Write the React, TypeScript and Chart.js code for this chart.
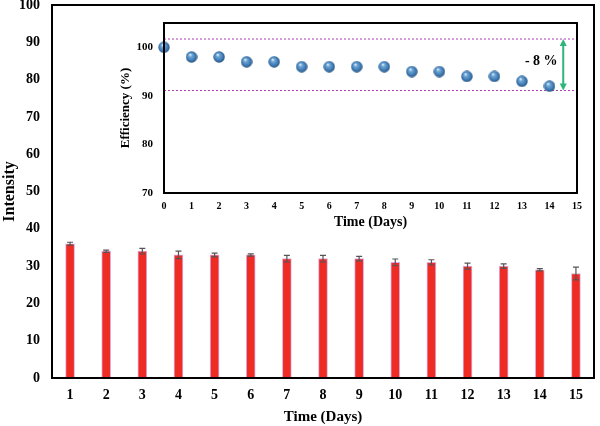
import React, { useEffect, useRef } from "react";
import { Chart, registerables } from "chart.js";

Chart.register(...registerables);

// ---- data ----
const days = ["1", "2", "3", "4", "5", "6", "7", "8", "9", "10", "11", "12", "13", "14", "15"];
const intensity = [36, 34, 34, 33, 33, 33, 32, 32, 32, 31, 31, 30, 30, 29, 28];
const intensityErr = [0.4, 0.3, 0.75, 1.0, 0.5, 0.3, 0.9, 0.9, 0.6, 0.9, 0.7, 0.8, 0.6, 0.3, 1.7];

const effDays = [0, 1, 2, 3, 4, 5, 6, 7, 8, 9, 10, 11, 12, 13, 14];
const efficiency = [100, 98, 98, 97, 97, 96, 96, 96, 96, 95, 95, 94, 94, 93, 92];
const insetYTicks = [70, 80, 90, 100];

const bandUpper = 101.7;
const bandLower = 91.1;
const arrowDay = 14.5;
const dropLabel = "- 8 %";
const dropLabelDay = 13.7;
const dropLabelValue = 97;

const SERIF = '"Liberation Serif", "Times New Roman", serif';

const boxBorder = {
  id: "boxBorder",
  afterDraw(chart: any) {
    const { ctx, chartArea } = chart;
    ctx.save();
    ctx.strokeStyle = "#000";
    ctx.lineWidth = 2;
    ctx.strokeRect(chartArea.left, chartArea.top, chartArea.right - chartArea.left, chartArea.bottom - chartArea.top);
    ctx.restore();
  },
};

const errorBars = {
  id: "errorBars",
  afterDatasetsDraw(chart: any) {
    const { ctx } = chart;
    const meta = chart.getDatasetMeta(0);
    const y = chart.scales.y;
    ctx.save();
    ctx.strokeStyle = "#555";
    ctx.lineWidth = 1.2;
    meta.data.forEach((bar: any, i: number) => {
      const v = intensity[i];
      const e = intensityErr[i];
      const yt = y.getPixelForValue(v + e);
      const yb = y.getPixelForValue(v - e);
      const x = bar.x;
      ctx.beginPath();
      ctx.moveTo(x, yt);
      ctx.lineTo(x, yb);
      ctx.moveTo(x - 3, yt);
      ctx.lineTo(x + 3, yt);
      ctx.moveTo(x - 3, yb);
      ctx.lineTo(x + 3, yb);
      ctx.stroke();
    });
    ctx.restore();
  },
};

const insetAnnotations = {
  id: "insetAnnotations",
  beforeDatasetsDraw(chart: any) {
    const { ctx, chartArea, scales } = chart;
    const xs = scales.x;
    const ys = scales.y;
    const yU = ys.getPixelForValue(bandUpper);
    const yL = ys.getPixelForValue(bandLower);
    ctx.save();
    ctx.strokeStyle = "#b03cb0";
    ctx.lineWidth = 1;
    ctx.setLineDash([2, 2]);
    ctx.beginPath();
    ctx.moveTo(chartArea.left, yU);
    ctx.lineTo(chartArea.right, yU);
    ctx.moveTo(chartArea.left, yL);
    ctx.lineTo(chartArea.right, yL);
    ctx.stroke();
    ctx.setLineDash([]);
    // arrow
    const ax = xs.getPixelForValue(arrowDay);
    ctx.strokeStyle = "#2db67a";
    ctx.fillStyle = "#2db67a";
    ctx.lineWidth = 2;
    ctx.beginPath();
    ctx.moveTo(ax, yU + 5);
    ctx.lineTo(ax, yL - 5);
    ctx.stroke();
    ctx.beginPath();
    ctx.moveTo(ax, yU);
    ctx.lineTo(ax - 3.5, yU + 7);
    ctx.lineTo(ax + 3.5, yU + 7);
    ctx.closePath();
    ctx.fill();
    ctx.beginPath();
    ctx.moveTo(ax, yL);
    ctx.lineTo(ax - 3.5, yL - 7);
    ctx.lineTo(ax + 3.5, yL - 7);
    ctx.closePath();
    ctx.fill();
    // label
    ctx.fillStyle = "#000";
    ctx.font = `bold 14px ${SERIF}`;
    ctx.textAlign = "center";
    ctx.textBaseline = "middle";
    ctx.fillText(dropLabel, xs.getPixelForValue(dropLabelDay), ys.getPixelForValue(dropLabelValue));
    ctx.restore();
  },
};

function makeSphere(): HTMLCanvasElement {
  const r = 6;
  const c = document.createElement("canvas");
  c.width = 2 * r;
  c.height = 2 * r;
  const ctx = c.getContext("2d")!;
  const g = ctx.createRadialGradient(r * 0.75, r * 0.6, 0.3, r, r, r);
  g.addColorStop(0, "#e6f3ff");
  g.addColorStop(0.25, "#6fa8d8");
  g.addColorStop(0.75, "#3a74ad");
  g.addColorStop(1, "#1c4874");
  ctx.fillStyle = g;
  ctx.beginPath();
  ctx.arc(r, r, r - 0.3, 0, Math.PI * 2);
  ctx.fill();
  return c;
}

export default function App() {
  const mainRef = useRef<HTMLCanvasElement>(null);
  const insetRef = useRef<HTMLCanvasElement>(null);

  useEffect(() => {
    const main = new Chart(mainRef.current!, {
      type: "bar",
      data: {
        labels: days,
        datasets: [
          {
            data: intensity,
            backgroundColor: "#ee2c24",
            borderColor: "#dcb0e2",
            borderWidth: 1,
            barThickness: 9,
          },
        ],
      },
      options: {
        responsive: false,
        animation: false,
        layout: { padding: { top: 5, right: 6, left: 0, bottom: 0 } },
        plugins: { legend: { display: false }, tooltip: { enabled: false } },
        scales: {
          x: {
            grid: { display: false, drawTicks: false },
            border: { display: false },
            ticks: { color: "#000", font: { family: SERIF, size: 14, weight: "bold" }, padding: 9 },
            title: {
              display: true,
              text: "Time (Days)",
              color: "#000",
              font: { family: SERIF, size: 15, weight: "bold" },
              padding: { top: 0, bottom: 0 },
            },
            afterFit(s: any) {
              s.height = 48;
              s.paddingLeft = 0;
              s.paddingRight = 0;
            },
          },
          y: {
            min: 0,
            max: 100,
            grid: { display: false, drawTicks: false },
            border: { display: false },
            ticks: { stepSize: 10, color: "#000", font: { family: SERIF, size: 14, weight: "bold" }, padding: 12 },
            title: {
              display: true,
              text: "Intensity",
              color: "#000",
              font: { family: SERIF, size: 16, weight: "bold" },
              padding: { top: 0, bottom: 0 },
            },
            afterFit(s: any) {
              s.width = 52;
              s.paddingTop = 0;
              s.paddingBottom = 0;
            },
          },
        },
      } as any,
      plugins: [errorBars, boxBorder],
    });

    const sphere = makeSphere();
    const inset = new Chart(insetRef.current!, {
      type: "scatter",
      data: {
        datasets: [
          {
            data: effDays.map((d, i) => ({ x: d, y: efficiency[i] })),
            pointStyle: sphere as any,
            pointRadius: 6,
            showLine: false,
            clip: false,
          },
        ],
      },
      options: {
        responsive: false,
        animation: false,
        layout: { padding: { top: 13, right: 13, left: 0, bottom: 0 } },
        plugins: { legend: { display: false }, tooltip: { enabled: false } },
        scales: {
          x: {
            type: "linear",
            min: 0,
            max: 15,
            grid: { display: false, drawTicks: false },
            border: { display: false },
            ticks: { stepSize: 1, color: "#000", font: { family: SERIF, size: 10, weight: "bold" }, padding: 7 },
            title: {
              display: true,
              text: "Time (Days)",
              color: "#000",
              font: { family: SERIF, size: 14, weight: "bold" },
              padding: { top: 0, bottom: 4 },
            },
            afterFit(s: any) {
              s.height = 42;
              s.paddingLeft = 0;
              s.paddingRight = 0;
            },
          },
          y: {
            min: 70,
            max: 105,
            grid: { display: false, drawTicks: false },
            border: { display: false },
            afterBuildTicks(s: any) {
              s.ticks = insetYTicks.map((v) => ({ value: v }));
            },
            ticks: { color: "#000", font: { family: SERIF, size: 11, weight: "bold" }, padding: 11 },
            title: {
              display: true,
              text: "Efficiency (%)",
              color: "#000",
              font: { family: SERIF, size: 13, weight: "bold" },
              padding: { top: 8, bottom: 0 },
            },
            afterFit(s: any) {
              s.width = 54;
              s.paddingTop = 0;
              s.paddingBottom = 0;
            },
          },
        },
      } as any,
      plugins: [insetAnnotations, boxBorder],
    });

    return () => {
      main.destroy();
      inset.destroy();
    };
  }, []);

  return (
    <div style={{ position: "fixed", left: 0, top: 0, width: 600, height: 426, background: "#fff" }}>
      <canvas ref={mainRef} width={600} height={426} style={{ position: "absolute", left: 0, top: 0 }} />
      <canvas ref={insetRef} width={480} height={225} style={{ position: "absolute", left: 110, top: 10 }} />
    </div>
  );
}
